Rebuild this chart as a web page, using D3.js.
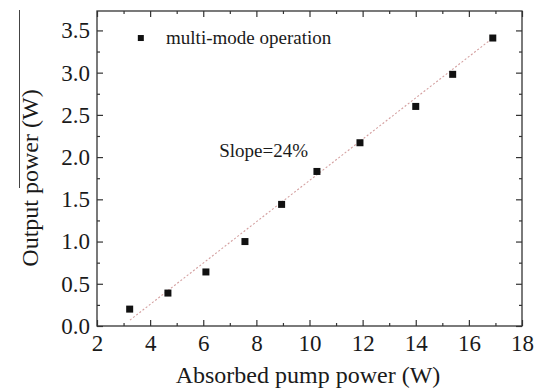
<!DOCTYPE html>
<html>
<head>
<meta charset="utf-8">
<script src="https://cdn.jsdelivr.net/npm/d3@7"></script>
<style>
  body { margin: 0; background: #fff; }
  text { font-family: "Liberation Serif", "Times New Roman", serif; fill: #1a1a1a; }
</style>
</head>
<body>
<div id="chart"></div>
<script>
// data
var pumpPower = [3.23, 4.67, 6.1, 7.57, 8.95, 10.28, 11.9, 14.0, 15.39, 16.9];
var outputPower = [0.2, 0.39, 0.64, 1.0, 1.44, 1.83, 2.17, 2.6, 2.98, 3.41];
var fitX = [3.24, 16.9];
var fitY = [0.07, 3.41];
var xTicks = [2, 4, 6, 8, 10, 12, 14, 16, 18];
var yTicks = [0.0, 0.5, 1.0, 1.5, 2.0, 2.5, 3.0, 3.5];

var margin = { left: 97, right: 21, top: 11, bottom: 65 };
var width = 543 - margin.left - margin.right;
var height = 391 - margin.top - margin.bottom;

var svg = d3.select("#chart")
    .append("svg")
    .attr("width", 543)
    .attr("height", 391);

// the thin rule on the left edge of the scan
svg.append("line")
    .attr("x1", 19.5).attr("x2", 19.5)
    .attr("y1", 10).attr("y2", 188)
    .attr("stroke", "#444")
    .attr("stroke-width", 1);

var g = svg.append("g")
    .attr("transform", "translate(" + margin.left + "," + margin.top + ")");

var x = d3.scaleLinear().domain([2, 18]).range([0, width]);
var y = d3.scaleLinear().domain([0, 3.73]).range([height, 0]);

var xMinor = d3.range(3, 18, 2);
var yMinor = d3.range(0.25, 3.75, 0.5);
var axisColor = "#333";

function styleAxis(sel) {
    sel.select(".domain").remove();
    sel.selectAll("line").attr("stroke", axisColor).attr("stroke-width", 1.2);
    sel.selectAll("text")
        .style("font-family", "'Liberation Serif', serif")
        .style("font-size", "23px")
        .style("fill", "#1a1a1a");
}

// bottom axis, ticks pointing inwards
g.append("g")
    .attr("transform", "translate(0," + height + ")")
    .call(d3.axisBottom(x).tickValues(xTicks).tickSize(-6).tickPadding(9)
        .tickFormat(d3.format("d")))
    .call(styleAxis);
g.append("g")
    .attr("transform", "translate(0," + height + ")")
    .call(d3.axisBottom(x).tickValues(xMinor).tickSize(-3).tickFormat(""))
    .call(styleAxis);

// top axis
g.append("g")
    .call(d3.axisTop(x).tickValues(xTicks).tickSize(-6).tickFormat(""))
    .call(styleAxis);
g.append("g")
    .call(d3.axisTop(x).tickValues(xMinor).tickSize(-3).tickFormat(""))
    .call(styleAxis);

// left axis
g.append("g")
    .call(d3.axisLeft(y).tickValues(yTicks).tickSize(-6).tickPadding(7)
        .tickFormat(d3.format(".1f")))
    .call(styleAxis);
g.append("g")
    .call(d3.axisLeft(y).tickValues(yMinor).tickSize(-3).tickFormat(""))
    .call(styleAxis);

// right axis
g.append("g")
    .attr("transform", "translate(" + width + ",0)")
    .call(d3.axisRight(y).tickValues(yTicks).tickSize(-6).tickFormat(""))
    .call(styleAxis);
g.append("g")
    .attr("transform", "translate(" + width + ",0)")
    .call(d3.axisRight(y).tickValues(yMinor).tickSize(-3).tickFormat(""))
    .call(styleAxis);

// frame
g.append("rect")
    .attr("width", width)
    .attr("height", height)
    .attr("fill", "none")
    .attr("stroke", axisColor)
    .attr("stroke-width", 1.3);

// linear fit
var fitData = fitX.map(function(d, i) { return { x: d, y: fitY[i] }; });
g.append("path")
    .datum(fitData)
    .attr("fill", "none")
    .attr("stroke", "#d4a0a0")
    .attr("stroke-width", 1.1)
    .attr("stroke-dasharray", "2,2")
    .attr("d", d3.line()
        .x(function(d) { return x(d.x); })
        .y(function(d) { return y(d.y); }));

// data points
var pts = pumpPower.map(function(d, i) { return { x: d, y: outputPower[i] }; });
g.selectAll("rect.pt")
    .data(pts)
    .enter()
    .append("rect")
    .attr("class", "pt")
    .attr("x", function(d) { return x(d.x) - 3.5; })
    .attr("y", function(d) { return y(d.y) - 3.5; })
    .attr("width", 7)
    .attr("height", 7)
    .attr("fill", "#111");

// legend
g.append("rect")
    .attr("x", x(3.65) - 3)
    .attr("y", y(3.41) - 3)
    .attr("width", 6)
    .attr("height", 6)
    .attr("fill", "#111");
g.append("text")
    .attr("x", x(4.6))
    .attr("y", y(3.41) + 6)
    .attr("font-size", "19px")
    .text("multi-mode operation");

// slope annotation
g.append("text")
    .attr("x", x(6.6))
    .attr("y", y(2.07) + 6)
    .attr("font-size", "19px")
    .text("Slope=24%");

// x label
svg.append("text")
    .attr("x", 308)
    .attr("y", 383)
    .attr("text-anchor", "middle")
    .attr("font-size", "24px")
    .text("Absorbed pump power (W)");

// y label
svg.append("text")
    .attr("transform", "translate(38,178) rotate(-90)")
    .attr("text-anchor", "middle")
    .attr("font-size", "24px")
    .text("Output power (W)");
</script>
</body>
</html>
